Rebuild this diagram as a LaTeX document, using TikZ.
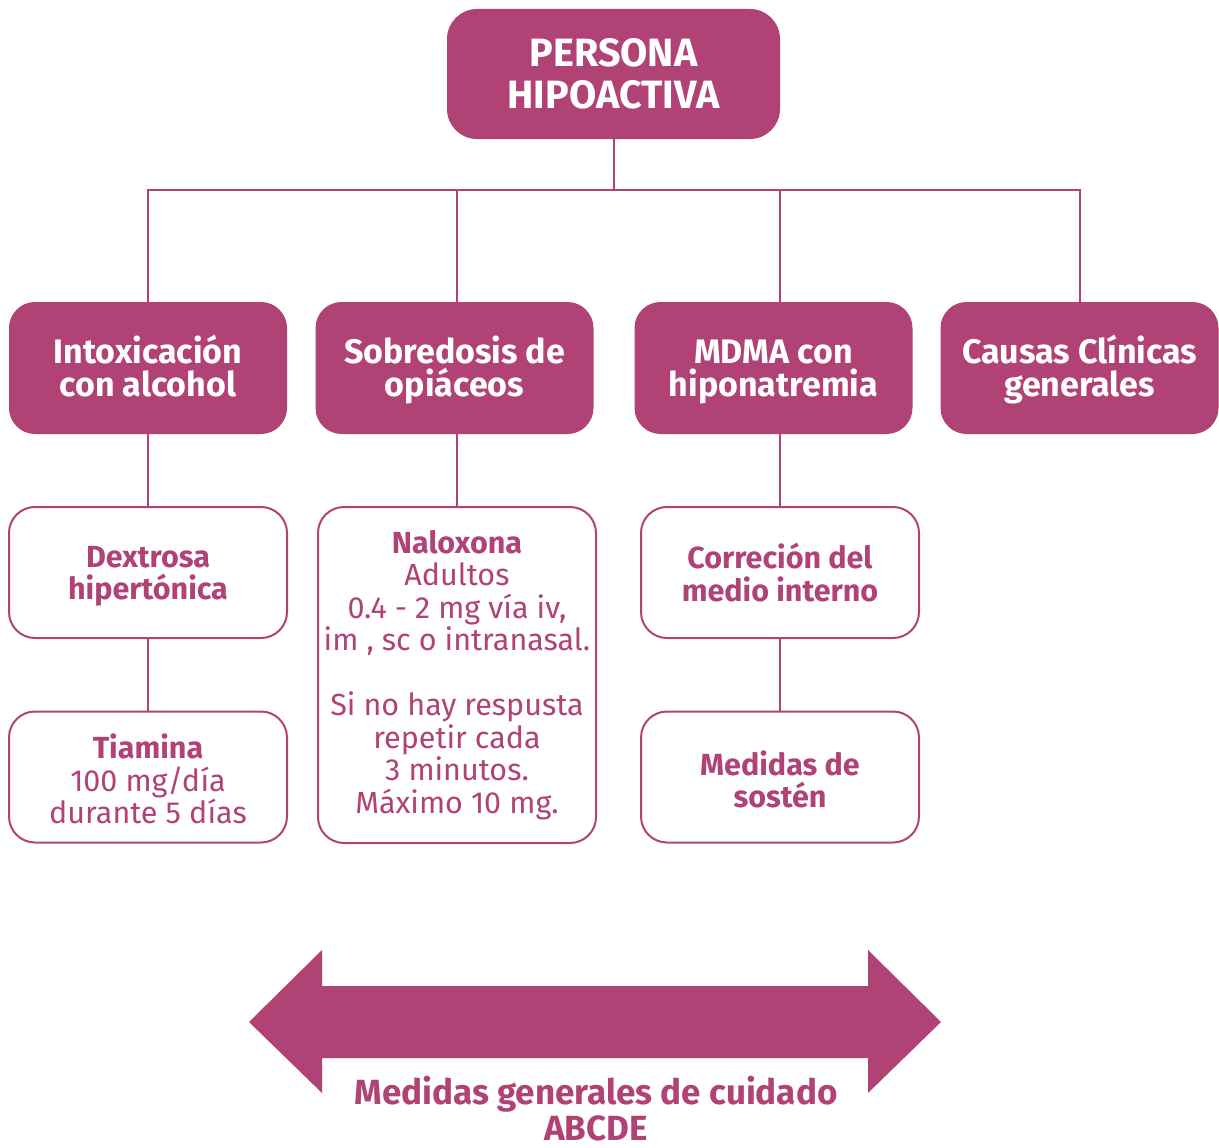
\documentclass[tikz,border=0pt]{standalone}
\usepackage{fontspec}
\setmainfont{Fira Sans}
\definecolor{rosa}{HTML}{B04276}

\begin{document}
\begin{tikzpicture}[x=1pt,y=-1pt,
    con/.style={draw=rosa,line width=2pt},
    cab/.style={fill=rosa,text=white,rounded corners=26pt,align=center,
      minimum width=278pt,minimum height=132pt,
      font=\bfseries\fontsize{34}{33}\selectfont},
    cuadro/.style={draw=rosa,line width=2pt,fill=white,text=rosa,
      rounded corners=26pt,align=center,minimum width=278pt,
      minimum height=131pt,font=\fontsize{30.5}{32.5}\selectfont}]
  \useasboundingbox (0,0) rectangle (1219,1148);
  \node[cab,minimum width=333pt,minimum height=130pt,rounded corners=30pt,
    font=\bfseries\fontsize{39.5}{42}\selectfont] (top) at (613.5,74)
    {PERSONA\\HIPOACTIVA};
  \node[cab] (alc) at (148,368) {\vphantom{Ó}Intoxicación\\con alcohol\vphantom{p}};
  \node[cab] (opi) at (454.5,368) {\vphantom{Ó}Sobredosis de\\opiáceos};
  \node[cab] (mdma) at (773.5,368) {\vphantom{Ó}MDMA con\\hiponatremia};
  \node[cab] (caus) at (1079.5,368) {\vphantom{Ó}Causas Clínicas\\generales};
  \node[cuadro] (dex) at (148,572.5) {\textbf{\vphantom{Ó}Dextrosa}\\\textbf{hipertónica}};
  \node[cuadro,minimum height=336pt] (nal) at (457,675)
    {\textbf{Naloxona}\\Adultos\\0.4 - 2 mg vía iv,\\im , sc o intranasal.\\[32.5pt]
     Si no hay respusta\\repetir cada\\3 minutos.\\Máximo 10 mg.};
  \node[cuadro] (cor) at (780,572.5) {\textbf{Correción del}\\\textbf{medio interno}};
  \node[cuadro] (tia) at (148,777) {\textbf{\vphantom{Ó}Tiamina}\\100 mg/día\\durante 5 días};
  \node[cuadro] (sos) at (780,777) {\textbf{\vphantom{Ó}Medidas de}\\\textbf{sostén}};
  \coordinate (bus) at (613.5,190);
  \draw[con] (top.south) -- (bus);
  \draw[con] (alc.north) -- (alc.north |- bus) -- (caus.north |- bus) -- (caus.north);
  \draw[con] (nal.north |- bus) -- (nal.north |- opi.north);
  \draw[con] (cor.north |- bus) -- (cor.north |- mdma.north);
  \draw[con] (alc.south) -- (dex.north) (dex.south) -- (tia.north);
  \draw[con] (nal.north |- opi.south) -- (nal.north);
  \draw[con] (cor.north |- mdma.south) -- (cor.north) (cor.south) -- (sos.north);
  \fill[rosa] (249,1022) -- (322,950) -- (322,986) -- (868,986) -- (868,950)
    -- (941,1022) -- (868,1093) -- (868,1058) -- (322,1058) -- (322,1093) -- cycle;
  \node[text=rosa,align=center,font=\bfseries\fontsize{35}{36}\selectfont] (abcde)
    at (596,1109) {Medidas generales de cuidado\\ABCDE};
\end{tikzpicture}
\end{document}
